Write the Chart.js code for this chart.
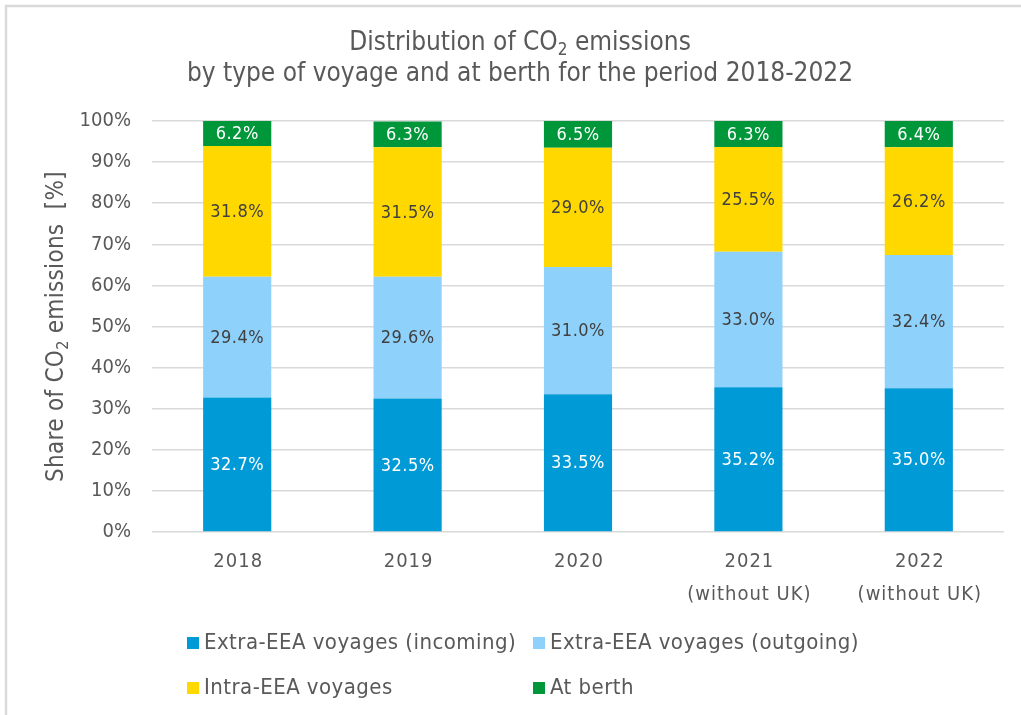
<!DOCTYPE html>
<html>
<head>
<meta charset="utf-8">
<script src="https://cdn.jsdelivr.net/npm/chart.js@4"></script>
<style>
html,body{margin:0;padding:0;background:#fff;}
#wrap{width:1021px;height:715px;position:relative;}
</style>
</head>
<body>
<div id="wrap"><canvas id="c" width="1021" height="715"></canvas></div>
<script>
const categories = [['2018'], ['2019'], ['2020'], ['2021', '(without UK)'], ['2022', '(without UK)']];
const seriesNames = ['Extra-EEA voyages (incoming)', 'Extra-EEA voyages (outgoing)', 'Intra-EEA voyages', 'At berth'];
const incoming = [32.7, 32.5, 33.5, 35.2, 35.0];
const outgoing = [29.4, 29.6, 31.0, 33.0, 32.4];
const intra = [31.8, 31.5, 29.0, 25.5, 26.2];
const atBerth = [6.2, 6.3, 6.5, 6.3, 6.4];
const yTicks = [0, 10, 20, 30, 40, 50, 60, 70, 80, 90, 100];

const FONT = '"DejaVu Sans Condensed", "DejaVu Sans", sans-serif';
const TXT = '#595959';
const colors = ['#009AD7', '#8ED2FC', '#FFD800', '#00973B'];
const labelColors = ['#ffffff', '#404040', '#404040', '#ffffff'];

function setLS(ctx, px) { try { ctx.letterSpacing = px + 'px'; } catch (e) {} }

function drawRich(ctx, segs, cx, cy, size, ls) {
  setLS(ctx, ls || 0);
  let total = 0;
  const widths = segs.map(s => {
    ctx.font = (s[1] ? Math.round(size * 0.65) : size) + 'px ' + FONT;
    const w = ctx.measureText(s[0]).width;
    total += w;
    return w;
  });
  let x = cx - total / 2;
  segs.forEach((s, i) => {
    ctx.font = (s[1] ? Math.round(size * 0.65) : size) + 'px ' + FONT;
    ctx.textAlign = 'left';
    ctx.textBaseline = 'middle';
    ctx.fillText(s[0], x, cy + (s[1] ? size * 0.3 : 0));
    x += widths[i];
  });
  setLS(ctx, 0);
}

const decor = {
  id: 'decor',
  beforeDraw(chart) {
    const ctx = chart.ctx;
    ctx.save();
    ctx.fillStyle = '#fff';
    ctx.fillRect(0, 0, chart.width, chart.height);
    ctx.strokeStyle = '#d9d9d9';
    ctx.lineWidth = 2.5;
    ctx.beginPath();
    ctx.moveTo(6, chart.height);
    ctx.lineTo(6, 6);
    ctx.lineTo(chart.width, 6);
    ctx.stroke();
    ctx.restore();
  },
  afterDraw(chart) {
    const ctx = chart.ctx;
    ctx.save();
    ctx.fillStyle = TXT;
    drawRich(ctx, [['Distribution of CO', false], ['2', true], [' emissions', false]], 520, 43, 26, 0);
    drawRich(ctx, [['by type of voyage and at berth for the period 2018-2022', false]], 520, 74, 26, 0);
    ctx.translate(57, (chart.chartArea.top + chart.chartArea.bottom) / 2);
    ctx.rotate(-Math.PI / 2);
    drawRich(ctx, [['Share of CO', false], ['2', true], [' emissions  [%]', false]], 0, 0, 24, 0.3);
    ctx.restore();
    // x category labels
    ctx.save();
    const xs = chart.scales.x;
    ctx.fillStyle = TXT;
    chart.data.labels.forEach((lab, i) => {
      const x = xs.getPixelForValue(i);
      const lines = Array.isArray(lab) ? lab : [lab];
      lines.forEach((ln, j) => {
        drawRich(ctx, [[ln, false]], x + 1, chart.chartArea.bottom + 30 + j * 33, 20, 1.0);
      });
    });
    ctx.restore();
    // legend
    ctx.save();
    const pos = [[187, 643], [533, 643], [187, 688], [533, 688]];
    chart.data.datasets.forEach((ds, i) => {
      const [x, y] = pos[i];
      ctx.fillStyle = ds.backgroundColor;
      ctx.fillRect(x, y - 6, 12, 12);
      ctx.fillStyle = TXT;
      ctx.font = '22px ' + FONT;
      setLS(ctx, 0.45);
      ctx.textAlign = 'left';
      ctx.textBaseline = 'middle';
      ctx.fillText(ds.label, x + 17, y);
    });
    ctx.restore();
  },
  afterDatasetsDraw(chart) {
    const ctx = chart.ctx;
    ctx.save();
    ctx.font = '18px ' + FONT;
    ctx.textAlign = 'center';
    ctx.textBaseline = 'middle';
    setLS(ctx, 0.5);
    chart.data.datasets.forEach((ds, di) => {
      const meta = chart.getDatasetMeta(di);
      ctx.fillStyle = labelColors[di];
      meta.data.forEach((el, i) => {
        const v = ds.data[i];
        ctx.fillText(v.toFixed(1) + '%', el.x, (el.y + el.base) / 2 + 1);
      });
    });
    ctx.restore();
  }
};

const datasets = [incoming, outgoing, intra, atBerth].map((d, i) => ({
  label: seriesNames[i],
  data: d,
  backgroundColor: colors[i],
  borderWidth: 0,
  barPercentage: 0.4,
  categoryPercentage: 1.0
}));

new Chart(document.getElementById('c'), {
  type: 'bar',
  data: { labels: categories, datasets },
  plugins: [decor],
  options: {
    responsive: false,
    animation: false,
    devicePixelRatio: 1,
    layout: { padding: { left: 10, right: 17, top: 121, bottom: 103 } },
    plugins: { legend: { display: false }, title: { display: false }, tooltip: { enabled: false } },
    scales: {
      x: {
        stacked: true,
        grid: { display: false, drawTicks: false },
        border: { display: false },
        ticks: { display: false },
        afterFit(s) { s.height = 80; }
      },
      y: {
        stacked: true,
        min: 0, max: 100,
        afterBuildTicks(s) { s.ticks = yTicks.map(v => ({ value: v })); },
        grid: { color: '#d9d9d9', lineWidth: 1.5, drawTicks: false },
        border: { display: false },
        ticks: { color: TXT, font: { family: FONT, size: 20 }, padding: 21, callback: v => v + '%' },
        afterFit(s) { s.width = 142; }
      }
    }
  }
});
</script>
</body>
</html>
